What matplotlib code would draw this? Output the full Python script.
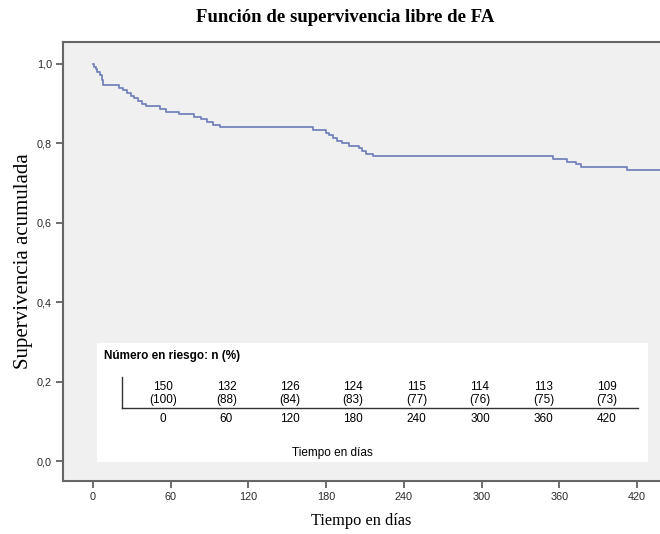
import numpy as np
import matplotlib.pyplot as plt

# Kaplan-Meier steps: day of each event and survival after it
event_days = [0, 1, 2, 3, 5, 7, 8, 20, 23, 26, 29, 32, 35, 38, 41, 52, 56, 60,
              66, 78, 83, 88, 93, 98, 170, 180, 182, 185, 188, 192, 198, 205,
              208, 211, 216, 355, 366, 373, 377, 412]
surv = [1.0, 0.993, 0.987, 0.980, 0.973, 0.960, 0.947, 0.940, 0.933, 0.927,
        0.920, 0.913, 0.907, 0.900, 0.893, 0.887, 0.880, 0.880, 0.873, 0.867,
        0.860, 0.853, 0.847, 0.840, 0.833, 0.827, 0.820, 0.813, 0.807, 0.800,
        0.793, 0.787, 0.780, 0.773, 0.767, 0.760, 0.753, 0.747, 0.740, 0.733]
last_day = 440

# number at risk table
risk_days = [0, 60, 120, 180, 240, 300, 360, 420]
risk_n = [150, 132, 126, 124, 115, 114, 113, 109]
risk_pct = [100, 88, 84, 83, 77, 76, 75, 73]

yticks = [0.0, 0.2, 0.4, 0.6, 0.8, 1.0]

W, H = 660, 534
fig = plt.figure(figsize=(W / 100, H / 100), dpi=100)
fig.patch.set_facecolor('white')

ax = fig.add_axes([63 / W, 1 - 481 / H, 1 - 63 / W, (481 - 42) / H])
ax.set_facecolor('#f0f0f0')
ax.step(event_days + [last_day], surv + [surv[-1]], where='post',
        color='#7583bb', lw=1.3)

ax.set_xlim(-23.2, 437.8)
ax.set_ylim(-0.050, 1.055)
ax.set_xticks(risk_days)
ax.set_yticks(yticks)
ax.set_yticklabels([('%.1f' % v).replace('.', ',') for v in yticks])
for lab in ax.get_xticklabels() + ax.get_yticklabels():
    lab.set_fontfamily('Liberation Sans')
    lab.set_fontsize(7.8)
    lab.set_color('#2a2a2a')
ax.tick_params(direction='out', length=5, width=1.2, color='#555555', pad=3)
for side in ['left', 'bottom', 'top']:
    ax.spines[side].set_color('#666666')
    ax.spines[side].set_linewidth(1.5)
ax.spines['right'].set_visible(False)

ax.set_xlabel('Tiempo en días', family='Liberation Serif', fontsize=11.8,
              labelpad=8)
ax.set_ylabel('Supervivencia acumulada', family='Liberation Serif',
              fontsize=15, labelpad=3)
fig.text(345 / W, 1 - 17 / H, 'Función de supervivencia libre de FA',
         family='Liberation Serif', fontweight='bold', fontsize=13.5,
         ha='center', va='center')

# inset box holding the number-at-risk table
tab = fig.add_axes([97 / W, 1 - 462 / H, 551 / W, 119 / H])
tab.set_facecolor('white')
for s in tab.spines.values():
    s.set_visible(False)
tab.set_xticks([])
tab.set_yticks([])
tab.set_xlim(-62.5, 459)
tab.set_ylim(119, 0)

sans = 'Liberation Sans'
tab.text(-55.8, 13, 'Número en riesgo: n (%)', family=sans, fontweight='bold',
         fontsize=8.5, va='center', ha='left')
for d, n, p in zip(risk_days, risk_n, risk_pct):
    tab.text(d, 44, str(n), family=sans, fontsize=8.5, ha='center', va='center')
    tab.text(d, 57, '(%d)' % p, family=sans, fontsize=8.5, ha='center', va='center')
    tab.text(d, 76, str(d), family=sans, fontsize=8.5, ha='center', va='center')
tab.plot([-38.8, -38.8], [34, 65], color='#333333', lw=1)
tab.plot([-38.8, 449.5], [65, 65], color='#333333', lw=1)
tab.text(160, 110, 'Tiempo en días', family=sans, fontsize=8.5,
         ha='center', va='center')

fig.savefig('out.png', dpi=100)
